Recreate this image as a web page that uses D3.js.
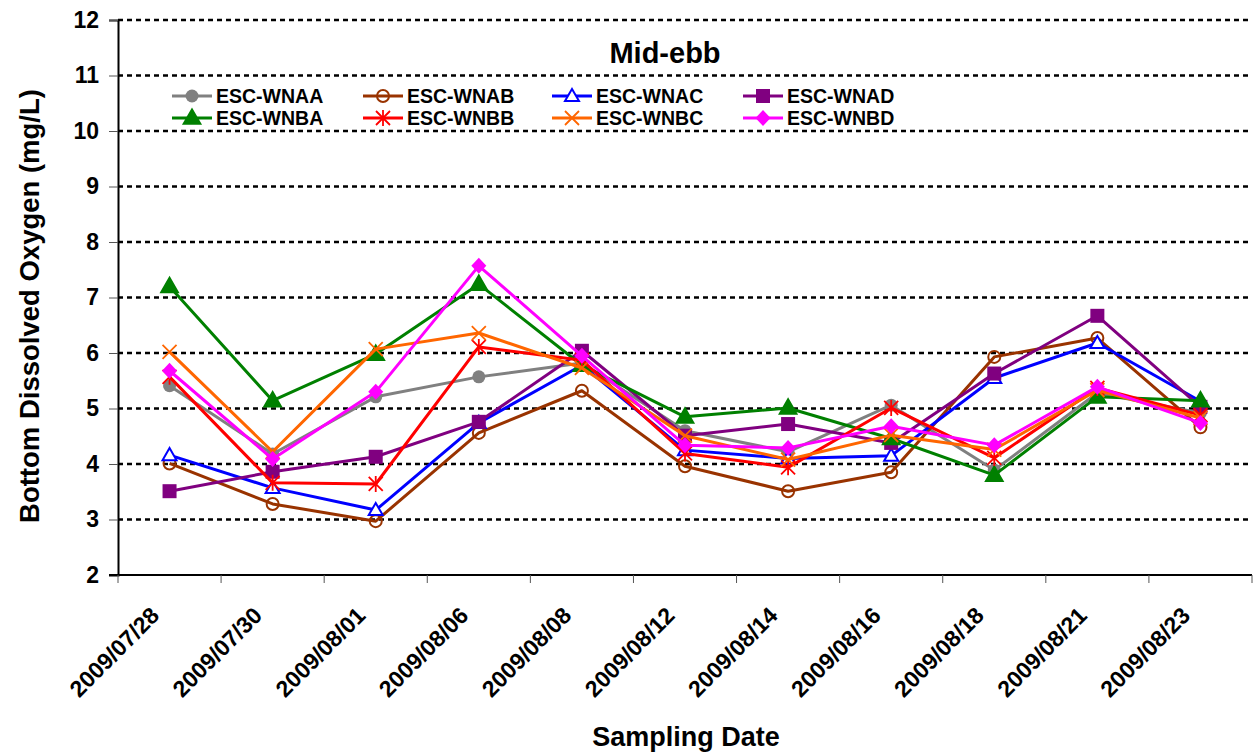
<!DOCTYPE html>
<html>
<head>
<meta charset="utf-8">
<script src="https://cdn.jsdelivr.net/npm/d3@7"></script>
<style>
  body { margin: 0; background: #fff; }
  svg { display: block; }
  text { font-family: "Liberation Sans", Arial, sans-serif; font-weight: bold; fill: #000; }
</style>
</head>
<body>
<div id="chart"></div>
<script>
//- Chart data
const dates = ["2009/07/28", "2009/07/30", "2009/08/01", "2009/08/06", "2009/08/08", "2009/08/12",
               "2009/08/14", "2009/08/16", "2009/08/18", "2009/08/21", "2009/08/23"];

const yTicks = [2, 3, 4, 5, 6, 7, 8, 9, 10, 11, 12];

const wnaa = [5.41, 4.18, 5.21, 5.57, 5.82, 4.60, 4.22, 5.06, 3.89, 5.28, 4.92];
const wnab = [4.01, 3.28, 2.97, 4.56, 5.32, 3.96, 3.51, 3.85, 5.93, 6.27, 4.66];
const wnac = [4.16, 3.57, 3.17, 4.74, 5.78, 4.25, 4.10, 4.15, 5.55, 6.18, 5.13];
const wnad = [3.51, 3.86, 4.13, 4.76, 6.04, 4.51, 4.72, 4.38, 5.63, 6.67, 5.03];
const wnba = [7.20, 5.14, 5.98, 7.24, 5.78, 4.85, 5.01, 4.46, 3.80, 5.21, 5.14];
const wnbb = [5.57, 3.66, 3.64, 6.11, 5.87, 4.19, 3.94, 5.01, 4.11, 5.37, 4.88];
const wnbc = [6.02, 4.22, 6.07, 6.36, 5.73, 4.51, 4.08, 4.52, 4.26, 5.33, 4.83];
const wnbd = [5.68, 4.09, 5.30, 7.57, 5.95, 4.34, 4.29, 4.68, 4.34, 5.39, 4.74];

const seriesNames = ["ESC-WNAA", "ESC-WNAB", "ESC-WNAC", "ESC-WNAD", "ESC-WNBA", "ESC-WNBB", "ESC-WNBC", "ESC-WNBD"];
const seriesValues = [wnaa, wnab, wnac, wnad, wnba, wnbb, wnbc, wnbd];

//- Styles for each series
const seriesStyle = [
    { color: "#808080", marker: "circle",   fill: true },
    { color: "#993300", marker: "circle",   fill: false },
    { color: "#0000ff", marker: "triangle", fill: false },
    { color: "#800080", marker: "square",   fill: true },
    { color: "#008000", marker: "triangle", fill: true },
    { color: "#ff0000", marker: "star",     fill: false },
    { color: "#ff6600", marker: "cross",    fill: false },
    { color: "#ff00ff", marker: "diamond",  fill: true }
];

const WIDTH = 1254, HEIGHT = 753;
const plot = { left: 118, right: 1252, top: 20, bottom: 575 };

const svg = d3.select("#chart").append("svg")
    .attr("width", WIDTH)
    .attr("height", HEIGHT);

//-- Scales
const xScale = d3.scaleBand()
    .domain(dates)
    .range([plot.left, plot.right])
    .padding(0);

const yScale = d3.scaleLinear()
    .domain([2, 12])
    .range([plot.bottom, plot.top]);

const xCenter = d => xScale(d) + xScale.bandwidth() / 2;

//-- Gridlines (dotted)
svg.append("g")
    .selectAll("line")
    .data(yTicks.filter(t => t > 2))
    .enter()
    .append("line")
    .attr("x1", plot.left)
    .attr("x2", plot.right)
    .attr("y1", d => yScale(d))
    .attr("y2", d => yScale(d))
    .attr("stroke", "#000")
    .attr("stroke-width", 2.5)
    .attr("stroke-dasharray", "5,4");

//-- Y axis
const yAxis = d3.axisLeft(yScale)
    .tickValues(yTicks)
    .tickSize(9)
    .tickPadding(10)
    .tickFormat(d3.format("d"));

const yAxisGroup = svg.append("g")
    .attr("transform", `translate(${plot.left}, 0)`)
    .call(yAxis);

yAxisGroup.select(".domain").attr("stroke", "#000").attr("stroke-width", 2);
yAxisGroup.selectAll(".tick line").attr("stroke", "#555").attr("stroke-width", 1);
yAxisGroup.selectAll(".tick text")
    .style("font-size", "23px")
    .style("font-family", "'Liberation Sans', Arial, sans-serif")
    .style("font-weight", "bold");

//-- X axis: ticks on the band edges, labels at the band centers
const xAxisGroup = svg.append("g");

xAxisGroup.append("line")
    .attr("x1", plot.left - 9)
    .attr("x2", plot.right)
    .attr("y1", plot.bottom)
    .attr("y2", plot.bottom)
    .attr("stroke", "#000")
    .attr("stroke-width", 2);

const edges = dates.map(d => xScale(d)).concat([plot.right]);

xAxisGroup.selectAll(".xtick")
    .data(edges)
    .enter()
    .append("line")
    .attr("class", "xtick")
    .attr("x1", d => d)
    .attr("x2", d => d)
    .attr("y1", plot.bottom)
    .attr("y2", plot.bottom + 8)
    .attr("stroke", "#555")
    .attr("stroke-width", 1);

xAxisGroup.selectAll(".xlabel")
    .data(dates)
    .enter()
    .append("text")
    .attr("class", "xlabel")
    .attr("text-anchor", "end")
    .attr("transform", d => `translate(${xCenter(d) - 9}, ${plot.bottom + 42}) rotate(-45)`)
    .style("font-size", "23px")
    .text(d => d);

//-- Axis titles
svg.append("text")
    .attr("transform", `translate(39, 306) rotate(-90)`)
    .attr("text-anchor", "middle")
    .style("font-size", "27.5px")
    .text("Bottom Dissolved Oxygen (mg/L)");

svg.append("text")
    .attr("x", 686)
    .attr("y", 746)
    .attr("text-anchor", "middle")
    .style("font-size", "27px")
    .text("Sampling Date");

//-- Chart title
svg.append("text")
    .attr("x", 665)
    .attr("y", 63)
    .attr("text-anchor", "middle")
    .style("font-size", "29px")
    .text("Mid-ebb");

//-- Marker drawing
function drawMarker(g, style, x, y) {
    const c = style.color;
    const fill = style.fill ? c : "#fff";
    if (style.marker === "circle") {
        g.append("circle")
            .attr("cx", x).attr("cy", y).attr("r", style.fill ? 6.5 : 6)
            .attr("fill", style.fill ? c : "none")
            .attr("stroke", c).attr("stroke-width", style.fill ? 0 : 2);
    } else if (style.marker === "triangle") {
        g.append("path")
            .attr("transform", `translate(${x}, ${y + 1})`)
            .attr("d", d3.symbol().type(d3.symbolTriangle).size(style.fill ? 120 : 85)())
            .attr("fill", fill)
            .attr("stroke", c).attr("stroke-width", 2);
    } else if (style.marker === "square") {
        g.append("rect")
            .attr("x", x - 7).attr("y", y - 7)
            .attr("width", 14).attr("height", 14)
            .attr("fill", c);
    } else if (style.marker === "diamond") {
        g.append("path")
            .attr("d", `M${x},${y - 8}L${x + 7.5},${y}L${x},${y + 8}L${x - 7.5},${y}Z`)
            .attr("fill", c);
    } else if (style.marker === "cross" || style.marker === "star") {
        const s = 7;
        let d = `M${x - s},${y - s}L${x + s},${y + s}M${x - s},${y + s}L${x + s},${y - s}`;
        if (style.marker === "star") d += `M${x},${y - s - 1}L${x},${y + s + 1}`;
        g.append("path")
            .attr("d", d)
            .attr("fill", "none")
            .attr("stroke", c).attr("stroke-width", 1.8);
    }
}

//-- Series lines and markers
const line = d3.line()
    .x((v, i) => xCenter(dates[i]))
    .y(v => yScale(v));

const seriesGroup = svg.append("g");

seriesValues.forEach((values, si) => {
    const style = seriesStyle[si];
    const g = seriesGroup.append("g");
    g.append("path")
        .attr("d", line(values))
        .attr("fill", "none")
        .attr("stroke", style.color)
        .attr("stroke-width", 3)
        .attr("stroke-linejoin", "round");
    values.forEach((v, i) => drawMarker(g, style, xCenter(dates[i]), yScale(v)));
});

//-- Legend
const legendCols = [172, 363, 552, 743];
const legendRows = [96, 118];

const legendGroup = svg.append("g");

seriesNames.forEach((name, si) => {
    const style = seriesStyle[si];
    const lx = legendCols[si % 4];
    const ly = legendRows[Math.floor(si / 4)];
    legendGroup.append("line")
        .attr("x1", lx).attr("x2", lx + 40)
        .attr("y1", ly).attr("y2", ly)
        .attr("stroke", style.color)
        .attr("stroke-width", 3);
    drawMarker(legendGroup, style, lx + 20, ly);
    legendGroup.append("text")
        .attr("x", lx + 44)
        .attr("y", ly)
        .attr("dy", "0.36em")
        .style("font-size", "19.5px")
        .text(name);
});
</script>
</body>
</html>
